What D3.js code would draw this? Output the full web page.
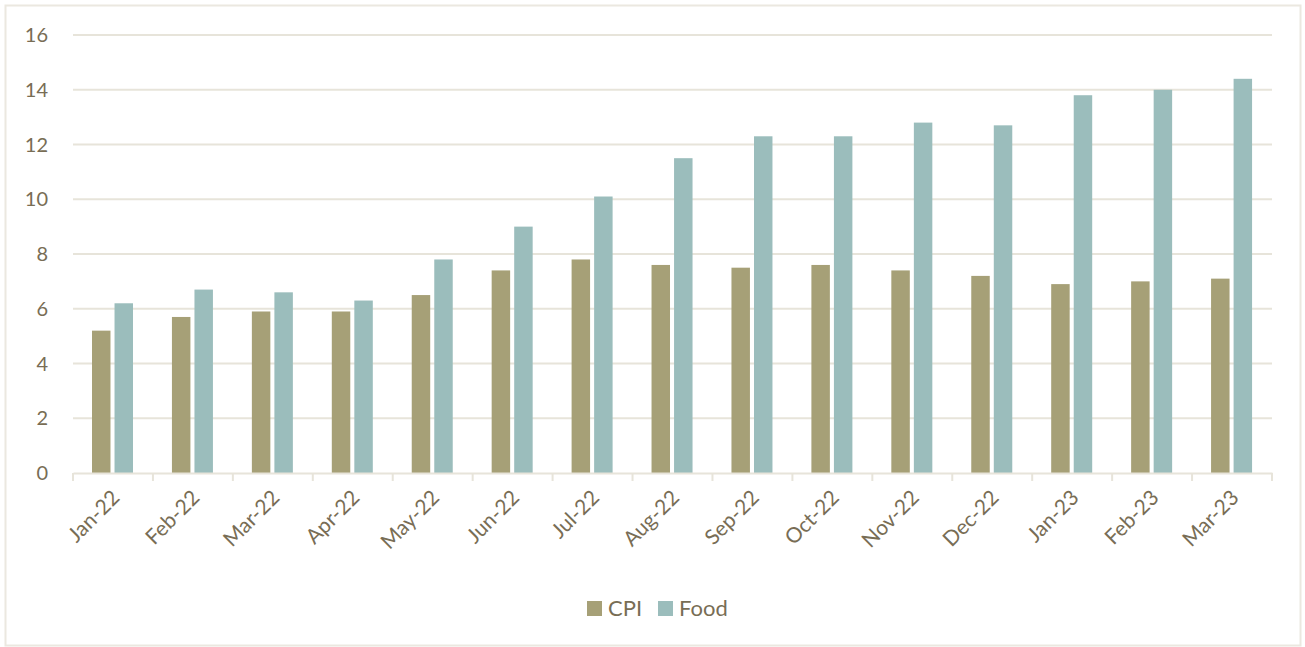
<!DOCTYPE html>
<html>
<head>
<meta charset="utf-8">
<script src="https://cdn.jsdelivr.net/npm/d3@7"></script>
<style>
  body { margin: 0; background: #fff; }
  text { font-family: Lato, "Open Sans", sans-serif; fill: #786d55; }
</style>
</head>
<body>
<script>
var months = ['Jan-22', 'Feb-22', 'Mar-22', 'Apr-22', 'May-22', 'Jun-22', 'Jul-22', 'Aug-22',
              'Sep-22', 'Oct-22', 'Nov-22', 'Dec-22', 'Jan-23', 'Feb-23', 'Mar-23'];
var cpi  = [5.2, 5.7, 5.9, 5.9, 6.5, 7.4, 7.8, 7.6, 7.5, 7.6, 7.4, 7.2, 6.9, 7.0, 7.1];
var food = [6.2, 6.7, 6.6, 6.3, 7.8, 9.0, 10.1, 11.5, 12.3, 12.3, 12.8, 12.7, 13.8, 14.0, 14.4];
var series = ['CPI', 'Food'];
var yTicks = [0, 2, 4, 6, 8, 10, 12, 14, 16];

var width = 1305,
    height = 647,
    colors = { CPI: '#a6a077', Food: '#9bbdbc' },
    grid = '#e7e4da';

var svg = d3.select('body')
    .append('svg')
    .attr('width', width)
    .attr('height', height)

// outer frame
svg.append('rect')
    .attr('x', 5.5).attr('y', 5.5)
    .attr('width', 1295).attr('height', 640)
    .attr('fill', 'none')
    .attr('stroke', '#ebe8e0')
    .attr('stroke-width', 2)

var x = d3.scaleBand().domain(months).range([73, 1272])
var xs = d3.scaleBand().domain(series).range([19, 60]).paddingInner(0.18)
var y = d3.scaleLinear().domain([0, 16]).range([473, 35])

// gridlines
svg.append('g')
    .selectAll('line')
    .data(yTicks.slice(1))
    .enter()
    .append('line')
    .attr('x1', 73).attr('x2', 1272)
    .attr('y1', d => y(d)).attr('y2', d => y(d))
    .attr('stroke', grid)
    .attr('stroke-width', 2)

// y labels
svg.append('g')
    .selectAll('text')
    .data(yTicks)
    .enter()
    .append('text')
    .attr('x', 48)
    .attr('y', d => y(d) + 7)
    .attr('text-anchor', 'end')
    .style('font-size', '20px')
    .text(d => d)

// bars
var rows = months.map((m, i) => ({ month: m, CPI: cpi[i], Food: food[i] }))
var groups = svg.append('g')
    .selectAll('g')
    .data(rows)
    .enter()
    .append('g')
    .attr('transform', d => 'translate(' + x(d.month) + ',0)')

groups.selectAll('rect')
    .data(d => series.map(s => ({ key: s, value: d[s] })))
    .enter()
    .append('rect')
    .attr('x', d => xs(d.key))
    .attr('width', xs.bandwidth())
    .attr('y', d => y(d.value))
    .attr('height', d => y(0) - y(d.value))
    .attr('fill', d => colors[d.key])

// x axis
var xAxis = svg.append('g')
    .attr('transform', 'translate(0,' + y(0) + ')')
    .call(d3.axisBottom(x).tickSize(0).tickFormat(''))
xAxis.select('.domain').attr('stroke', grid).attr('stroke-width', 2)

svg.append('g')
    .selectAll('line')
    .data(months.concat(['end']))
    .enter()
    .append('line')
    .attr('x1', (d, i) => 73 + i * x.step())
    .attr('x2', (d, i) => 73 + i * x.step())
    .attr('y1', y(0)).attr('y2', y(0) + 8)
    .attr('stroke', grid)
    .attr('stroke-width', 2)

svg.append('g')
    .selectAll('text')
    .data(months)
    .enter()
    .append('text')
    .attr('transform', d => 'translate(' + (x(d) + x.bandwidth() / 2 + 8) + ',' + (y(0) + 26) + ') rotate(-45)')
    .attr('text-anchor', 'end')
    .style('font-size', '21px')
    .text(d => d)

// legend
var legend = svg.append('g').attr('transform', 'translate(587,601)')
var items = legend.selectAll('g')
    .data(series)
    .enter()
    .append('g')
    .attr('transform', (d, i) => 'translate(' + (i * 71) + ',0)')
items.append('rect')
    .attr('width', 15).attr('height', 15)
    .attr('fill', d => colors[d])
items.append('text')
    .attr('x', 21).attr('y', 15)
    .style('font-size', '22px')
    .text(d => d)
</script>
</body>
</html>
